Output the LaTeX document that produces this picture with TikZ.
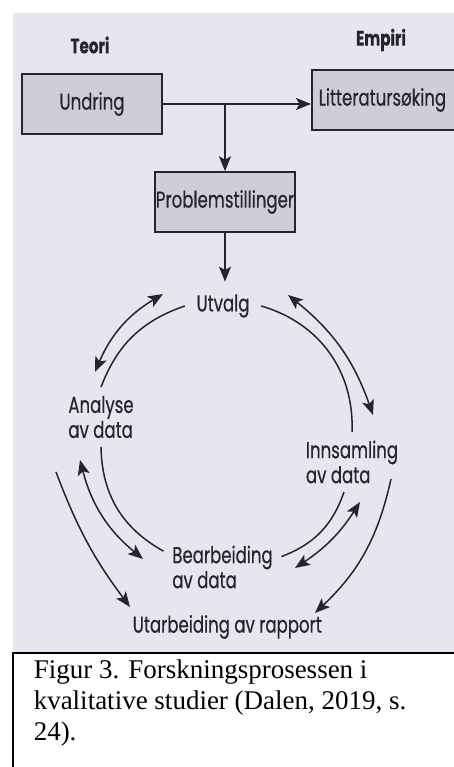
\documentclass[tikz,border=0pt]{standalone}
\usepackage{fontspec}
\setmainfont{Liberation Serif}
\newfontfamily\diagfont[FakeStretch=0.72, FakeBold=0.4]{Poppins}
\usepackage{tikz}
\usetikzlibrary{arrows.meta}
\definecolor{paper}{RGB}{231, 229, 237}
\definecolor{boxfill}{RGB}{207, 205, 214}
\definecolor{ink}{RGB}{38, 36, 44}

\begin{document}
\begin{tikzpicture}[x=1pt, y=1pt, line width=1.5pt,
  >={Stealth[length=15pt, width=12pt, inset=3.5pt]},
  box/.style={draw=ink, fill=boxfill, minimum width=140pt, minimum height=60pt, inner sep=0pt,
    text=ink, font=\diagfont\fontsize{23}{25}\selectfont},
  lbl/.style={align=left, inner sep=8pt, text=ink, font=\diagfont\fontsize{23}{25}\selectfont},
  head/.style={text=ink, font=\diagfont\bfseries\fontsize{21}{24}\selectfont},
  link/.style={draw=ink, line width=1.5pt}]
  \useasboundingbox (0, 0) rectangle (454, 767);
  \clip (0, 0) rectangle (454, 767);
  \fill [white] (0, 0) rectangle (454, 767);

  % photo of the figure
  \fill [paper] (13, 115) rectangle (470, 754);

  \node [head] (teori) at (90, 722) {Teori};
  \node [head] (empiri) at (381, 727) {Empiri};

  \node [box] (undring) at (92, 663) {Undring};
  \node [box, anchor=west, text width=180pt, align=left, inner xsep=7pt] (litt) at (311, 667) {Litteraturs\o king};
  \node [box] (prob) at (225, 565) {Problemstillinger};

  \draw [link, ->] (undring.east) -- (undring.east -| litt.west);
  \draw [link, ->] (undring.east -| prob.north) -- (prob.north);

  \node [lbl, inner xsep=11pt, inner ysep=12pt] (utvalg) at (223, 461) {Utvalg};
  \node [lbl] (analyse) at (101, 350) {Analyse\\av data};
  \node [lbl] (innsamling) at (352, 305) {Innsamling\\av data};
  \node [lbl] (bearbeiding) at (222.5, 200) {Bearbeiding\\av data};
  \node [lbl, anchor=west] (rapport) at (124, 140) {Utarbeiding av rapport};

  \draw [link, ->] (prob.south) -- (prob.south |- utvalg.north);

  % free ends of the outer arrows
  \coordinate (utan-a) at (163, 473);
  \coordinate (utan-b) at (95, 395);
  \coordinate (utin-a) at (288, 472);
  \coordinate (utin-b) at (373, 352);
  \coordinate (inbe-a) at (360, 265);
  \coordinate (inbe-b) at (295, 199);
  \coordinate (anbe-a) at (80, 307);
  \coordinate (anbe-b) at (143, 208);
  \coordinate (anra-a) at (56, 295);
  \coordinate (anra-b) at (130, 160);
  \coordinate (inra-a) at (391, 288);
  \coordinate (inra-b) at (315, 154);

  % inner circle
  \draw [link] (utvalg.west) to[bend right=25] (analyse.north);
  \draw [link] (utvalg.east) to[bend left=38] (innsamling.north);
  \draw [link] (innsamling.-105) to[bend left=25] (bearbeiding.10);
  \draw [link] (analyse.south) to[bend right=30] (bearbeiding.165);

  % outer arrows
  \draw [link, <->] (utan-a) to[bend right=18] (utan-b);
  \draw [link, <->] (utin-a) to[bend left=16] (utin-b);
  \draw [link, <->] (inbe-a) to[bend left=12] (inbe-b);
  \draw [link, <->] (anbe-a) to[bend right=18] (anbe-b);
  \draw [link, ->] (anra-a) to[bend right=8] (anra-b);
  \draw [link, ->] (inra-a) to[bend left=17] (inra-b);

  % caption
  \draw [line width=2pt, black] (13, -5) -- (13, 114) -- (470, 114);
  \node [anchor=north west, inner sep=0pt, align=left, font=\fontsize{27}{31}\selectfont] (caption) at (33, 108)
    {Figur 3. Forskningsprosessen i\\kvalitative studier (Dalen, 2019, s.\\24).};
\end{tikzpicture}
\end{document}
